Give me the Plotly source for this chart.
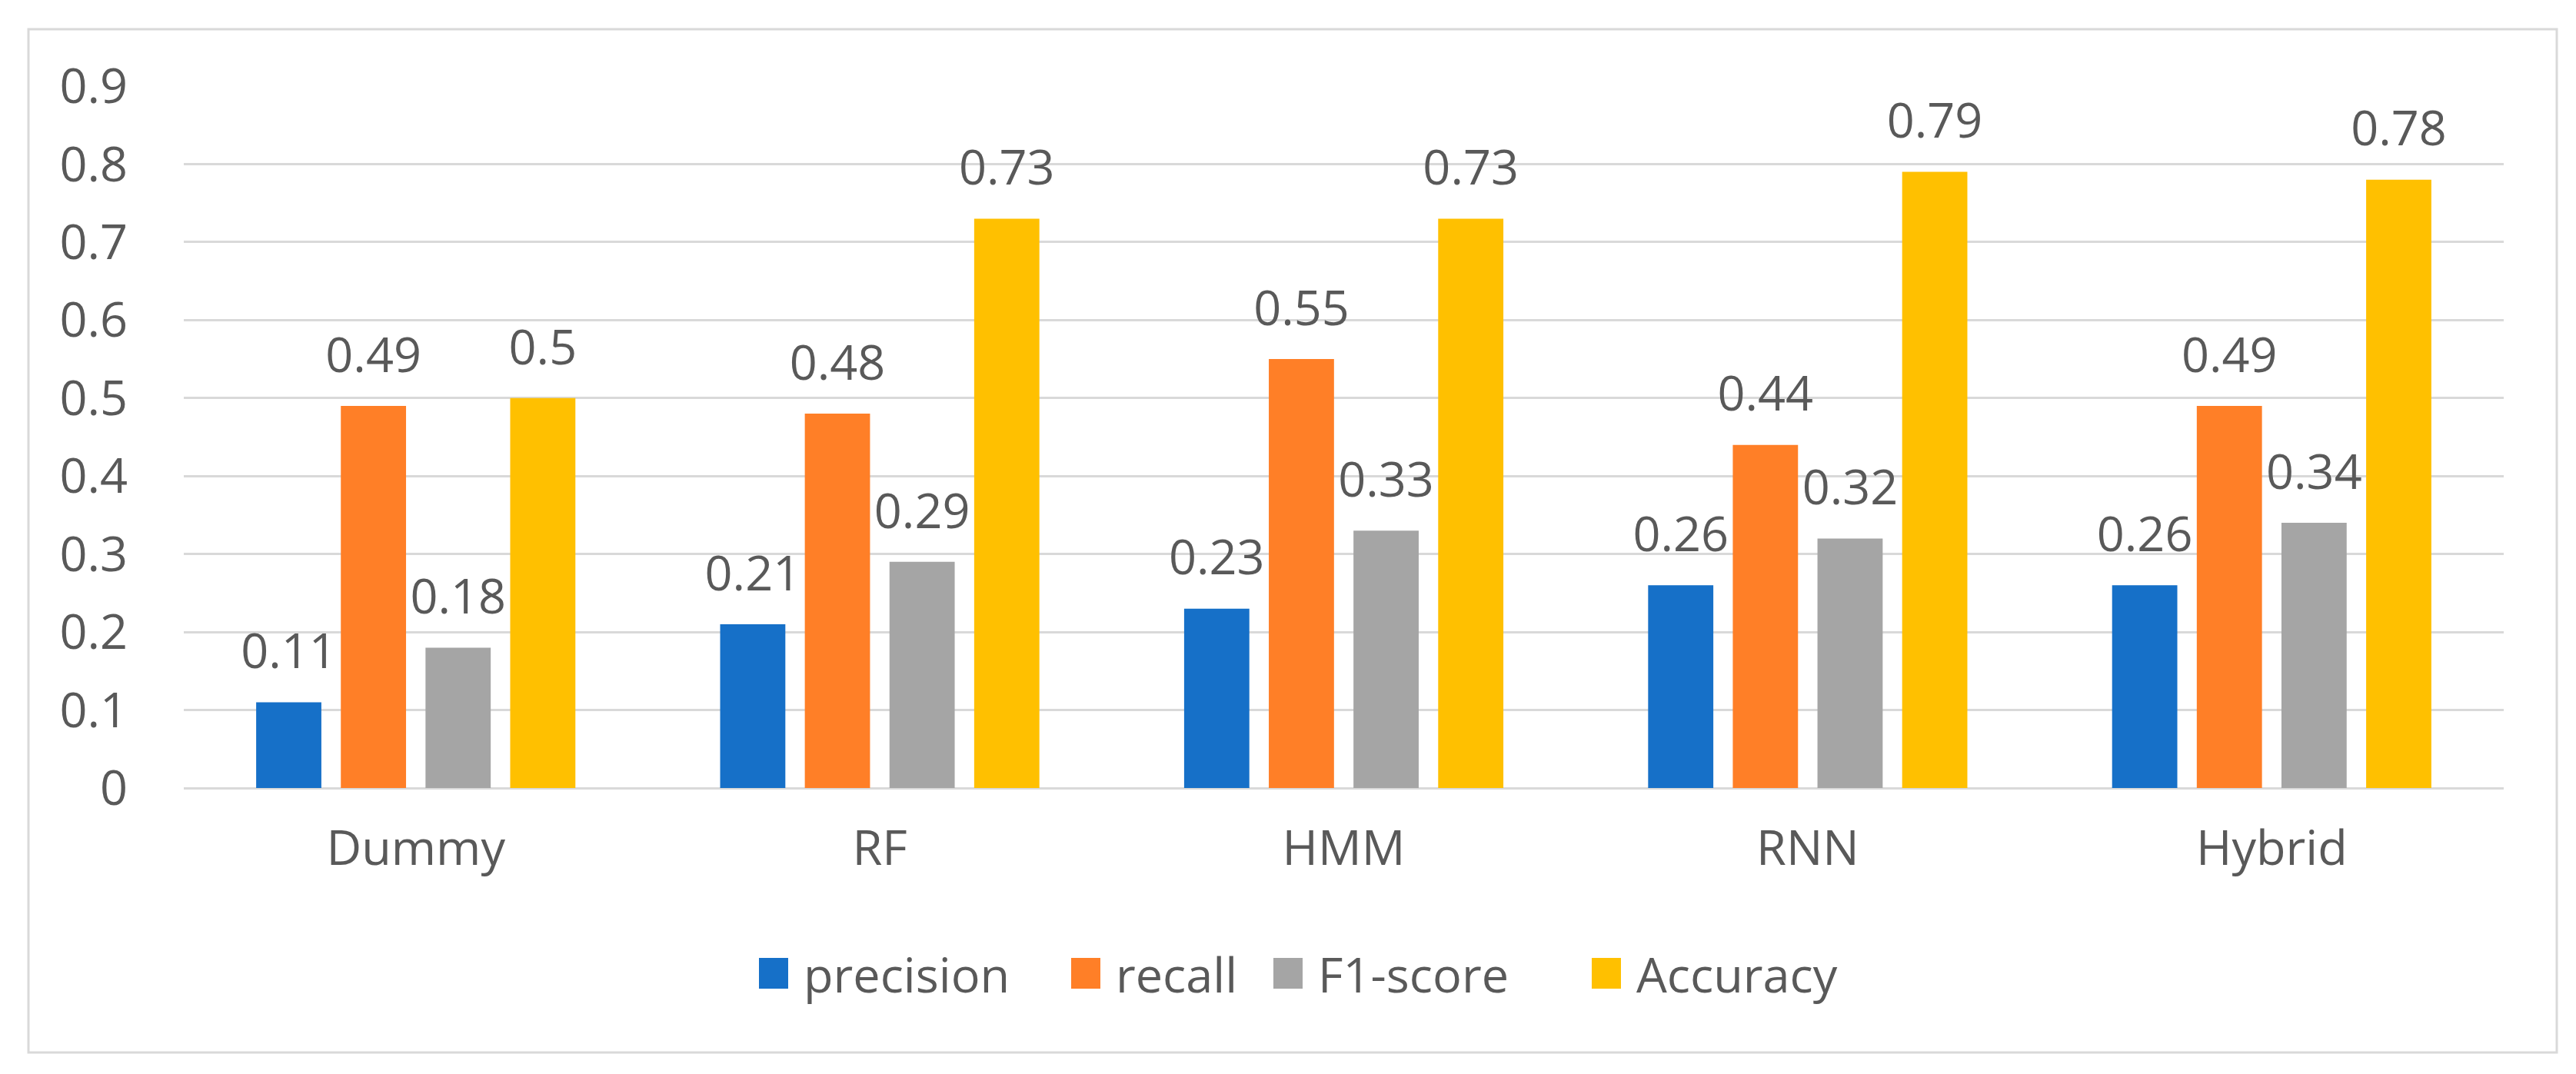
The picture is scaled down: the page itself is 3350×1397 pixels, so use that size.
import plotly.graph_objects as go

categories = ["Dummy", "RF", "HMM", "RNN", "Hybrid"]
precision = [0.11, 0.21, 0.23, 0.26, 0.26]
recall = [0.49, 0.48, 0.55, 0.44, 0.49]
f1_score = [0.18, 0.29, 0.33, 0.32, 0.34]
accuracy = [0.5, 0.73, 0.73, 0.79, 0.78]
series_names = ["precision", "recall", "F1-score", "Accuracy"]
y_ticks = [0, 0.1, 0.2, 0.3, 0.4, 0.5, 0.6, 0.7, 0.8, 0.9]

series_values = [precision, recall, f1_score, accuracy]
colors = ["#1670C8", "#FF7F27", "#A5A5A5", "#FFC000"]
FONT = "Open Sans"
TXT = "#595959"
FS = 63

W, H = 3350, 1397
L, R, T, B = 231, 102, 104, 380
pw = W - L - R
ph = H - T - B


def px(x):
    return (x - L) / pw


def py(y):
    return (H - B - y) / ph


fig = go.Figure()
for name, vals, col in zip(series_names, series_values, colors):
    fig.add_trace(go.Bar(name=name, x=categories, y=vals,
                         marker=dict(color=col, line=dict(width=0)),
                         showlegend=False, hoverinfo="x+y+name"))
for name, vals in zip(series_names, series_values):
    fig.add_trace(go.Scatter(x=categories, y=vals, mode="markers+text",
                             text=[f"{v:g}" for v in vals],
                             textposition="top center",
                             textfont=dict(family=FONT, size=FS, color=TXT),
                             marker=dict(size=44, color="rgba(0,0,0,0)"),
                             showlegend=False, hoverinfo="skip",
                             cliponaxis=False))

# legend (drawn as layout shapes + text)
legend_x = [979, 1385, 1648, 2062]
legend_yc = 1258
shapes = [dict(type="rect", xref="paper", yref="paper",
               x0=px(29), x1=px(3317), y0=py(1361), y1=py(30),
               line=dict(color="#D9D9D9", width=3), layer="below")]
annotations = []
for name, col, lx in zip(series_names, colors, legend_x):
    shapes.append(dict(type="rect", xref="paper", yref="paper",
                       x0=px(lx), x1=px(lx + 38),
                       y0=py(legend_yc + 20), y1=py(legend_yc - 20),
                       fillcolor=col, line=dict(width=0)))
    annotations.append(dict(xref="paper", yref="paper", x=px(lx + 56), y=py(legend_yc),
                            xanchor="left", yanchor="middle", showarrow=False,
                            text=name, font=dict(family=FONT, size=FS, color=TXT)))

fig.update_layout(
    width=W, height=H,
    margin=dict(l=L, r=R, t=T, b=B),
    paper_bgcolor="white", plot_bgcolor="white",
    barmode="group", bargap=0.27, bargroupgap=0.23,
    scattermode="group", scattergap=0.27,
    font=dict(family=FONT, size=FS, color=TXT),
    showlegend=False,
    xaxis=dict(type="category", showgrid=False, showline=False, zeroline=False,
               ticks="", tickfont=dict(family=FONT, size=FS, color=TXT),
               ticklabelstandoff=36),
    yaxis=dict(range=[0, 0.9], tickvals=y_ticks, ticktext=[f"{v:g}" for v in y_ticks],
               showgrid=True, gridcolor="#D9D9D9", gridwidth=3,
               zeroline=True, zerolinecolor="#D9D9D9", zerolinewidth=3,
               showline=False, ticks="",
               tickfont=dict(family=FONT, size=FS, color=TXT),
               ticklabelstandoff=72),
    shapes=shapes,
    annotations=annotations,
)

fig.write_html("out.html")
